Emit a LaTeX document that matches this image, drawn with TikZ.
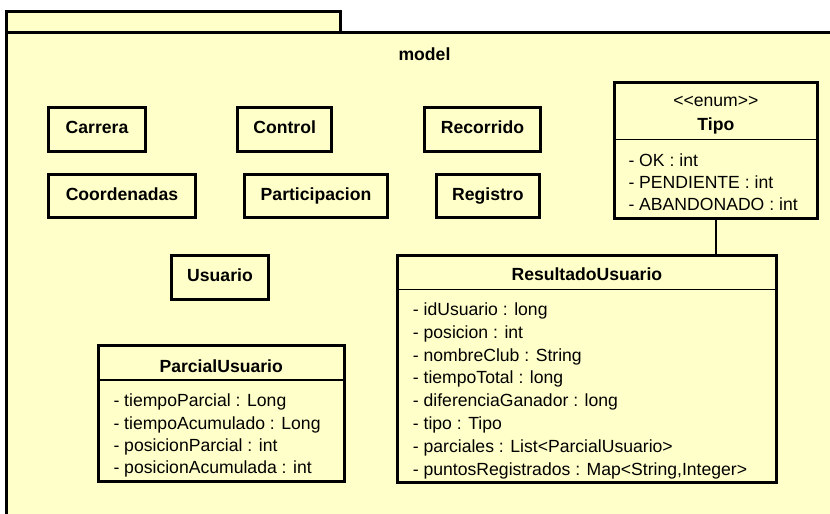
\documentclass[tikz,border=0pt]{standalone}
\usepackage{fontspec}
\setmainfont{Liberation Sans}
\definecolor{umlfill}{HTML}{FFFFCA}
\begin{document}
\begin{tikzpicture}[x=1pt,y=-1pt,
  every node/.style={font=\fontsize{17.6}{21}\selectfont},
  pkgline/.style={draw=black, line width=3pt, fill=umlfill},
  cls/.style={draw=black, line width=3pt, fill=umlfill, inner sep=0pt,
    font=\fontsize{17.6}{21}\selectfont\bfseries, text height=12.6pt, text depth=3.6pt},
  frame/.style={draw=black, line width=3pt, fill=umlfill, inner sep=0pt},
  title/.style={inner sep=0pt, text height=12.6pt, text depth=0pt,
    font=\fontsize{17.6}{21}\selectfont\bfseries},
  stereo/.style={inner sep=0pt, text height=9pt, text depth=0pt},
  attr/.style={anchor=mid west, inner sep=0pt, yshift=-3.8pt},
  sepline/.style={draw=black, line width=1.5pt},
  conn/.style={draw=black, line width=1.5pt}]

\useasboundingbox (0,0) rectangle (830,514);
\clip (0,0) rectangle (830,514);

% package "model": tab and body
\path[pkgline] (6.7,32.7) rectangle (340.8,11.7);
\path[pkgline] (6.7,32.7) rectangle (860,540);
\node[title] (pkgname) at (424.5,54) {model};

% plain classes
\node[cls, minimum width=96.4pt, minimum height=43.7pt] (carrera) at (97,129.35) {Carrera};
\node[cls, minimum width=94.3pt, minimum height=43.7pt] (control) at (284.65,129.35) {Control};
\node[cls, minimum width=115.4pt, minimum height=43.7pt] (recorrido) at (482.5,129.35) {Recorrido};
\node[cls, minimum width=146.4pt, minimum height=43.6pt] (coordenadas) at (122,196) {Coordenadas};
\node[cls, minimum width=143.6pt, minimum height=43.6pt] (participacion) at (316,196) {Participacion};
\node[cls, minimum width=102.7pt, minimum height=43.6pt] (registro) at (487.85,196) {Registro};
\node[cls, minimum width=97pt, minimum height=43.7pt] (usuario) at (220,277.35) {Usuario};

% enum Tipo
\node[frame, minimum width=203.3pt, minimum height=136.3pt] (tipo) at (715.85,150.35) {};
\coordinate (tiposep) at (0,139.3);
\draw[sepline] (tipo.west |- tiposep) -- (tipo.east |- tiposep);
\node[stereo] (tipost) at (715.85,101.7) {<{}<enum>{}>};
\node[title] (tiponame) at (715.85,124.3) {Tipo};
\node[attr] (tipoa1) at (628.3,160) {- OK : int};
\node[attr] (tipoa2) at (628.3,182.3) {- PENDIENTE : int};
\node[attr] (tipoa3) at (628.3,204) {- ABANDONADO : int};

% class ResultadoUsuario
\node[frame, minimum width=378.7pt, minimum height=227pt] (resultado) at (586.85,369) {};
\coordinate (ressep) at (0,289.3);
\draw[sepline] (resultado.west |- ressep) -- (resultado.east |- ressep);
\node[title] (resname) at (586.85,274.3) {ResultadoUsuario};
\node[attr] (resa1) at (412.7,309) {- idUsuario : long};
\node[attr] (resa2) at (412.7,331.7) {- posicion : int};
\node[attr] (resa3) at (412.7,354.7) {- nombreClub : String};
\node[attr] (resa4) at (412.7,377.3) {- tiempoTotal : long};
\node[attr] (resa5) at (412.7,400) {- diferenciaGanador : long};
\node[attr] (resa6) at (412.7,423) {- tipo : Tipo};
\node[attr] (resa7) at (412.7,445.7) {- parciales : List<ParcialUsuario>};
\node[attr] (resa8) at (412.7,468.7) {- puntosRegistrados : Map<String,Integer>};

% class ParcialUsuario
\node[frame, minimum width=246pt, minimum height=136.3pt] (parcial) at (221.2,413.65) {};
\coordinate (parsep) at (0,380);
\draw[sepline] (parcial.west |- parsep) -- (parcial.east |- parsep);
\node[title] (parname) at (221.2,366) {ParcialUsuario};
\node[attr] (para1) at (113.3,400) {- tiempoParcial : Long};
\node[attr] (para2) at (113.3,423.3) {- tiempoAcumulado : Long};
\node[attr] (para3) at (113.3,445) {- posicionParcial : int};
\node[attr] (para4) at (113.3,467.3) {- posicionAcumulada : int};

% association between Tipo and ResultadoUsuario
\draw[conn] (tipo.south) -- (tipo.south |- resultado.north);

\end{tikzpicture}
\end{document}
